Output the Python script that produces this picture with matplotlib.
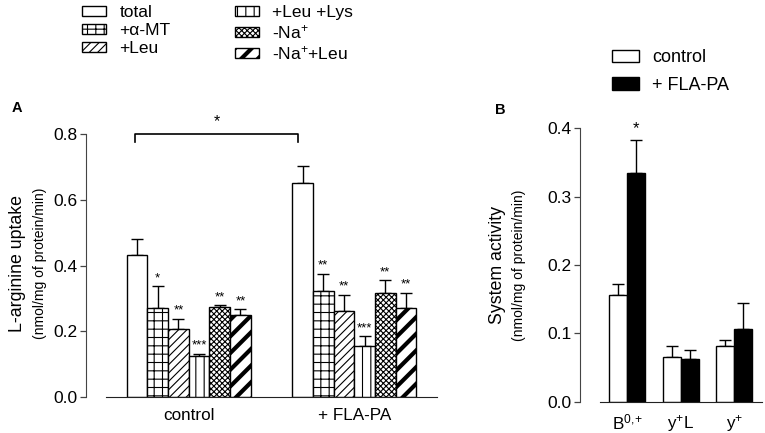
import numpy as np
import matplotlib
matplotlib.use("Agg")
import matplotlib.pyplot as plt
import matplotlib.patches as mpatches

plt.rcParams['font.family'] = ['Liberation Sans', 'DejaVu Sans']
plt.rcParams['mathtext.fontset'] = 'custom'
plt.rcParams['mathtext.rm'] = 'Liberation Sans'
plt.rcParams['mathtext.it'] = 'Liberation Sans:italic'
plt.rcParams['hatch.linewidth'] = 0.8

""" datos panel A """
groups_a = ['control', '+ FLA-PA']
treatments = ['total', '+\u03b1-MT', '+Leu', '+Leu +Lys', '-Na$^{+}$', '-Na$^{+}$+Leu']
hatches = ['', '++', '////', '||', 'xxxxxx', '//']
control_mean = [0.432, 0.272, 0.206, 0.125, 0.275, 0.249]
control_sem = [0.049, 0.066, 0.032, 0.007, 0.004, 0.019]
control_stars = ['', '*', '**', '***', '**', '**']
fla_mean = [0.653, 0.324, 0.262, 0.156, 0.317, 0.270]
fla_sem = [0.049, 0.051, 0.050, 0.029, 0.038, 0.047]
fla_stars = ['', '**', '**', '***', '**', '**']

""" datos panel B """
systems = [r'B$^{0,\!\!+}$', 'y$^{+}$L', 'y$^{+}$']
b_control = [0.156, 0.066, 0.082]
b_control_sem = [0.016, 0.016, 0.009]
b_fla = [0.335, 0.063, 0.107]
b_fla_sem = [0.048, 0.013, 0.037]
b_fla_stars = ['*', '', '']

W, H = 765, 433
fig = plt.figure(figsize=(W / 100, H / 100), dpi=100)

def px_axes(left, right, bottom, top):
    return fig.add_axes([left / W, 1 - bottom / H, (right - left) / W, (bottom - top) / H])

def style_axes(ax):
    for s in ['top', 'right']:
        ax.spines[s].set_visible(False)
    ax.spines['left'].set_position(('outward', 14.4))
    ax.spines['left'].set_color('#444444')
    ax.spines['bottom'].set_color('#222222')
    ax.tick_params(axis='y', direction='out', length=4, width=0.9, color='#444444',
                   labelsize=12.5, pad=2)
    ax.tick_params(axis='x', length=0, labelsize=12.3, pad=8)

def thick(p, lw=3.0):
    if hasattr(p, 'set_hatch_linewidth'):
        p.set_hatch_linewidth(lw)

# ---------------- Panel A ----------------
axA = px_axes(106, 437, 397, 134.3)
style_axes(axA)
axA.set_xlim(0, 16)
axA.set_ylim(0, 0.8)

group_start = [1, 9]
for g, (means, sems, stars) in enumerate([(control_mean, control_sem, control_stars),
                                           (fla_mean, fla_sem, fla_stars)]):
    x = group_start[g] + np.arange(len(means)) + 0.5
    axA.errorbar(x, means, yerr=[np.zeros(len(sems)), sems], fmt='none',
                 ecolor='black', elinewidth=1, capsize=4, capthick=1, zorder=1)
    bars = axA.bar(x, means, width=1.0, color='white', edgecolor='black',
                   linewidth=1, zorder=2)
    for b, h in zip(bars, hatches):
        b.set_hatch(h)
    thick(bars[5])
    for xi, m, s, st in zip(x, means, sems, stars):
        if st:
            axA.text(xi, m + s + 0.006, st, ha='center', va='bottom', fontsize=9.5)

axA.set_xticks([4, 12])
axA.set_xticklabels(groups_a)
axA.set_yticks([0.0, 0.2, 0.4, 0.6, 0.8])
axA.set_yticklabels(['0.0', '0.2', '0.4', '0.6', '0.8'])

# corchete de comparacion
axA.plot([1.4, 1.4, 9.3, 9.3], [0.776, 0.8, 0.8, 0.776], color='black', lw=1.2,
         clip_on=False)
axA.text(5.35, 0.815, '*', ha='center', va='bottom', fontsize=11.5)

fig.text(18 / W, 1 - 263 / H, 'L-arginine uptake', rotation=90, ha='center',
         va='center', fontsize=12.8)
fig.text(40 / W, 1 - 263 / H, '(nmol/mg of protein/min)', rotation=90,
         ha='center', va='center', fontsize=10)
fig.text(17 / W, 1 - 108 / H, 'A', ha='center', va='center', fontsize=10.5,
         fontweight='bold')

# leyenda panel A
handlesA = []
for h in hatches:
    handlesA.append(mpatches.Patch(facecolor='white', edgecolor='black', hatch=h,
                                   linewidth=1))
thick(handlesA[5])
legA = fig.legend(handlesA, treatments, ncol=2, loc='upper left',
                  bbox_to_anchor=(82 / W, 1 - 5 / H), frameon=False,
                  fontsize=12.5, handlelength=1.4, handleheight=0.46,
                  handletextpad=0.75, labelspacing=0.18, columnspacing=3.7,
                  borderpad=0, borderaxespad=0)
for p in legA.get_patches()[5:]:
    thick(p)

# ---------------- Panel B ----------------
axB = px_axes(600, 762, 401.7, 128.3)
style_axes(axB)
axB.set_xlim(-0.51, 2.52)
axB.set_ylim(0, 0.4)
bw = 0.333
xb = np.arange(len(systems))
axB.errorbar(xb - bw / 2, b_control, yerr=[np.zeros(3), b_control_sem], fmt='none',
             ecolor='black', elinewidth=1, capsize=4, capthick=1, zorder=1)
axB.errorbar(xb + bw / 2, b_fla, yerr=[np.zeros(3), b_fla_sem], fmt='none',
             ecolor='black', elinewidth=1, capsize=4, capthick=1, zorder=1)
barsC = axB.bar(xb - bw / 2, b_control, width=bw, color='white', edgecolor='black',
                linewidth=1, zorder=2, label='control')
barsF = axB.bar(xb + bw / 2, b_fla, width=bw, color='black', edgecolor='black',
                linewidth=1, zorder=2, label='+ FLA-PA')
for xi, m, s, st in zip(xb + bw / 2, b_fla, b_fla_sem, b_fla_stars):
    if st:
        axB.text(xi, m + s + 0.006, st, ha='center', va='bottom', fontsize=12)
axB.set_xticks(xb)
axB.set_xticklabels(systems)
axB.set_yticks([0.0, 0.1, 0.2, 0.3, 0.4])

fig.text(497 / W, 1 - 265 / H, 'System activity', rotation=90, ha='center',
         va='center', fontsize=12.8)
fig.text(519 / W, 1 - 265 / H, '(nmol/mg of protein/min)', rotation=90,
         ha='center', va='center', fontsize=10)
fig.text(500 / W, 1 - 110 / H, 'B', ha='center', va='center', fontsize=10.5,
         fontweight='bold')

fig.legend([barsC, barsF], ['control', '+ FLA-PA'], loc='upper left',
           bbox_to_anchor=(612 / W, 1 - 49 / H), frameon=False, fontsize=13,
           handlelength=1.5, handleheight=0.67, handletextpad=0.72,
           labelspacing=0.6, borderpad=0, borderaxespad=0)

fig.savefig('out.png', dpi=100)
